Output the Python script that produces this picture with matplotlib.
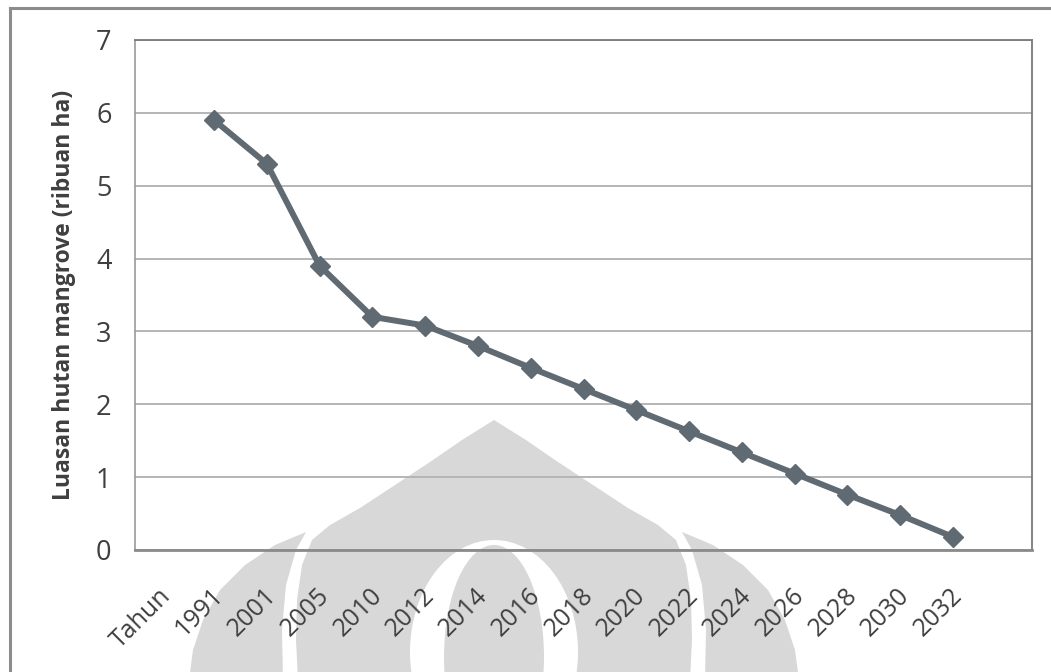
import matplotlib
matplotlib.use("Agg")
import matplotlib.pyplot as plt
from matplotlib.patches import Ellipse, Polygon
from matplotlib.lines import Line2D
import matplotlib.transforms as mtransforms

# ---- data ----
categories = ["Tahun", "1991", "2001", "2005", "2010", "2012", "2014", "2016",
              "2018", "2020", "2022", "2024", "2026", "2028", "2030", "2032"]
values = [None, 5.9, 5.3, 3.9, 3.2, 3.08, 2.8, 2.5, 2.21, 1.92, 1.63,
          1.34, 1.05, 0.76, 0.48, 0.18]
yticks = [0, 1, 2, 3, 4, 5, 6, 7]
ylabel = "Luasan hutan mangrove (ribuan ha)"

W, H = 1051, 672
fig = plt.figure(figsize=(W / 100, H / 100), dpi=100)
fig.patch.set_facecolor("white")

def fx(x):
    return x / W

def fy(y):
    return 1 - y / H

# ---- watermark (light grey logo in background) ----
wm = "#d8d8d8"
tf = fig.transFigure
CX = 494

def poly(pts, color):
    p = Polygon([(fx(x), fy(y)) for x, y in pts], closed=True, transform=tf,
                facecolor=color, edgecolor="none", zorder=-5)
    fig.patches.append(p)

def mirror(pts):
    return [(2 * CX - x, y) for x, y in pts]

def ell(cx, cy, rx, ry, color):
    e = Ellipse((fx(cx), fy(cy)), 2 * rx / W, 2 * ry / H, transform=tf,
                facecolor=color, edgecolor="none", zorder=-5)
    fig.patches.append(e)

petal = [(306, 532), (275, 545), (245, 565), (220, 590), (203, 620),
         (193, 650), (189, 680), (283, 680), (282, 630), (286, 585), (296, 550)]
poly(petal, wm)
poly(mirror(petal), wm)
dome_half = [(494, 420), (462, 440), (430, 462), (395, 485), (360, 508),
             (330, 525), (312, 540), (302, 565), (297, 600), (296, 640),
             (298, 680)]
poly(dome_half + mirror(dome_half)[::-1], wm)
ell(494, 652, 84, 112, "white")    # inner white lens
ell(494, 657, 50, 112, wm)         # inner grey lens

# ---- outer frame ----
fc = "#8c8c8c"
fig.lines.append(Line2D([fx(10), fx(1051)], [fy(8), fy(8)], transform=tf,
                        color=fc, lw=2.2, zorder=1))
fig.lines.append(Line2D([fx(10), fx(10)], [fy(8), fy(672)], transform=tf,
                        color=fc, lw=2.2, zorder=1))

# ---- axes ----
left, right, top, bottom = 135, 1032, 40, 550
ax = fig.add_axes([fx(left), fy(bottom), (right - left) / W, (bottom - top) / H])
ax.set_facecolor("none")

xs = list(range(len(categories)))
px = [x for x, v in zip(xs, values) if v is not None]
py = [v for v in values if v is not None]
ax.plot(px, py, color="#5f6a72", lw=4.3, marker="D", markersize=10,
        markerfacecolor="#5f6a72", markeredgecolor="#5f6a72", zorder=3,
        solid_joinstyle="round")

ax.set_xlim(-0.5, len(categories) + 0.5)
ax.set_ylim(0, 7)
ax.set_yticks(yticks)
ax.set_xticks(xs)
ax.set_xticklabels(categories)

tc = "#3f3f3f"
ax.grid(axis="y", color="#b5b5b5", lw=1.4, zorder=0)
ax.set_axisbelow(True)
ax.tick_params(axis="both", length=0, colors=tc)
ax.tick_params(axis="y", pad=17, labelsize=19.5)
ax.tick_params(axis="x", pad=24, labelsize=18)
for lab in ax.get_yticklabels():
    lab.set_fontfamily("Open Sans")
offset = mtransforms.ScaledTranslation(-3 / 100, 0, fig.dpi_scale_trans)
for lab in ax.get_xticklabels():
    lab.set_fontfamily("Open Sans")
    lab.set_rotation(45)
    lab.set_ha("right")
    lab.set_va("top")
    lab.set_rotation_mode("anchor")
    lab.set_transform(lab.get_transform() + offset)

for s in ["top", "right"]:
    ax.spines[s].set_color("#7a7a7a")
    ax.spines[s].set_linewidth(1.3)
ax.spines["left"].set_color("#9a9a9a")
ax.spines["left"].set_linewidth(1.2)
ax.spines["bottom"].set_color("#8a8a8a")
ax.spines["bottom"].set_linewidth(2.0)

ax.set_ylabel(ylabel, fontsize=16.5, fontweight="bold", color=tc,
              fontfamily="Open Sans")
ax.yaxis.set_label_coords((76 - left) / (right - left), 0.5)

fig.savefig("out.png", dpi=100)
